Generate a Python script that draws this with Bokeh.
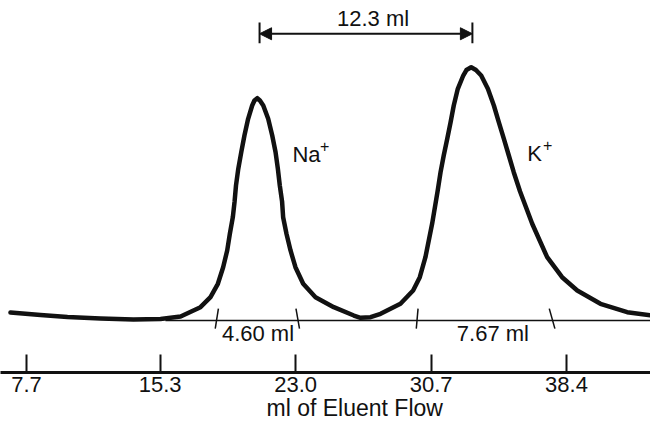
from bokeh.plotting import figure
from bokeh.models import Range1d, FixedTicker, Arrow, NormalHead, NumeralTickFormatter, Title
from bokeh.core.properties import value
from bokeh.embed import file_html
from bokeh.resources import INLINE

# ---- data ----
eluent_ml = [6.79, 8.50, 10.03, 11.91, 13.78, 15.32, 16.46, 17.59, 18.16, 18.58,
             18.88, 19.11, 19.26, 19.43, 19.53, 19.61, 19.74, 19.91, 20.09, 20.30,
             20.53, 20.66, 20.82, 20.97, 21.16, 21.44, 21.67, 21.86, 21.99, 22.10,
             22.23, 22.29, 22.48, 22.71, 22.99, 23.43, 24.13, 25.17, 26.31, 26.69,
             27.26, 27.83, 28.96, 29.68, 30.06, 30.38, 30.76, 31.07, 31.24, 31.42,
             31.62, 31.81, 31.99, 32.22, 32.53, 32.71, 32.98, 33.25, 33.55, 33.93,
             34.27, 34.55, 34.84, 35.12, 35.40, 35.76, 36.45, 37.30, 38.15, 39.01,
             40.33, 41.85, 43.93]
response = [3.16, 2.17, 1.38, 0.79, 0.39, 0.59, 1.58, 5.25, 9.20, 14.49,
            21.04, 27.64, 34.23, 40.78, 46.98, 53.30, 59.89, 66.44, 73.04, 79.63,
            84.88, 86.85, 87.76, 86.85, 84.88, 79.63, 73.04, 66.44, 59.89, 53.30,
            46.98, 40.78, 34.23, 27.64, 21.04, 14.49, 9.20, 5.25, 1.97, 1.07,
            1.30, 2.65, 6.59, 11.84, 17.09, 24.99, 38.18, 50.93, 58.55, 65.14,
            71.73, 78.29, 84.88, 91.47, 96.72, 98.89, 100.0, 98.89, 96.72, 91.47,
            84.88, 78.29, 71.73, 65.14, 58.55, 50.93, 38.18, 24.99, 17.09, 11.84,
            6.59, 3.28, 1.30]

tick_values = [7.7, 15.3, 23.0, 30.7, 38.4]
tick_labels = ["7.7", "15.3", "23.0", "30.7", "38.4"]

ion_names = ["Na", "K"]
retention_ml = [20.95, 33.05]          # ends of the separation arrow
separation_label = "12.3 ml"
width_start_ml = [18.52, 29.91]
peak_width_ml = [4.60, 7.67]
width_labels = ["4.60 ml", "7.67 ml"]
baseline_start_ml = 15.6
x_title = "ml of Eluent Flow"

FONT = "Liberation Sans"
BLACK = "#111111"
X0, X1 = 6.222, 43.175

p = figure(width=650, height=424,
           x_range=Range1d(X0, X1), y_range=Range1d(-20.53, 126.33),
           output_backend="svg", toolbar_location=None, y_axis_location=None,
           min_border_left=0, min_border_right=0, min_border_top=0, min_border_bottom=52,
           background_fill_color="white", border_fill_color="white",
           outline_line_color=None)
p.grid.visible = False

ax = p.xaxis[0]
ax.ticker = FixedTicker(ticks=tick_values)
ax.formatter = NumeralTickFormatter(format="0.0")
ax.major_label_overrides = {v: l for v, l in zip(tick_values, tick_labels)}
ax.major_tick_in = 18
ax.major_tick_out = 0
ax.minor_tick_in = 0
ax.minor_tick_out = 0
ax.major_tick_line_width = 2
ax.major_tick_line_color = BLACK
ax.axis_line_width = 3
ax.axis_line_color = BLACK
ax.major_label_text_font = FONT
ax.major_label_text_font_size = "22px"
ax.major_label_text_color = BLACK
ax.major_label_standoff = 4

p.add_layout(Title(text=x_title, align="left", offset=266, standoff=-4,
                   text_font=FONT, text_font_size="23px", text_font_style="normal",
                   text_color=BLACK), "below")

# thin baseline under the peaks
p.segment(x0=[baseline_start_ml], x1=[X1], y0=[0], y1=[0],
          line_color=BLACK, line_width=1.5)

# chromatogram trace
p.line(eluent_ml, response, line_color=BLACK, line_width=4.5,
       line_join="round", line_cap="round")

# peak-width markers (tangent intercepts on the baseline)
mark_x = []
for s, w in zip(width_start_ml, peak_width_ml):
    mark_x += [s, s + w]
slant = [0.09, -0.10, 0.05, -0.16]
p.segment(x0=[m - d for m, d in zip(mark_x, slant)],
          x1=[m + d for m, d in zip(mark_x, slant)],
          y0=[-3.2] * 4, y1=[4.7] * 4, line_color=BLACK, line_width=1.5)

label_x = [width_start_ml[0] + peak_width_ml[0] / 2 + 0.04,
           width_start_ml[1] + peak_width_ml[1] / 2 + 0.47]
p.text(x=label_x, y=[-5.1, -5.1], text=width_labels,
       text_font=value(FONT), text_font_size="22px", text_color=BLACK,
       text_align="center", text_baseline="middle")

# ion labels with superscript charge
p.text(x=[22.82, 36.17], y=[65.7, 65.8], text=ion_names,
       text_font=value(FONT), text_font_size="22px", text_color=BLACK,
       text_align="left", text_baseline="middle")
p.text(x=[24.38, 37.07], y=[68.7, 69.1], text=["+", "+"],
       text_font=value(FONT), text_font_size="16px", text_color=BLACK,
       text_align="left", text_baseline="middle")

# separation arrow between the peak maxima
p.add_layout(Arrow(x_start=retention_ml[0], y_start=113.2,
                   x_end=retention_ml[1], y_end=113.2,
                   line_color=BLACK, line_width=2,
                   start=NormalHead(size=12, fill_color=BLACK, line_color=BLACK),
                   end=NormalHead(size=12, fill_color=BLACK, line_color=BLACK)))
p.segment(x0=retention_ml, x1=retention_ml, y0=[109.5, 109.5], y1=[117.6, 117.6],
          line_color=BLACK, line_width=2)
p.text(x=[(retention_ml[0] + retention_ml[1]) / 2 + 0.4], y=[119.4], text=[separation_label],
       text_font=value(FONT), text_font_size="22px", text_color=BLACK,
       text_align="center", text_baseline="middle")

open("out.html", "w").write(file_html(p, INLINE))
